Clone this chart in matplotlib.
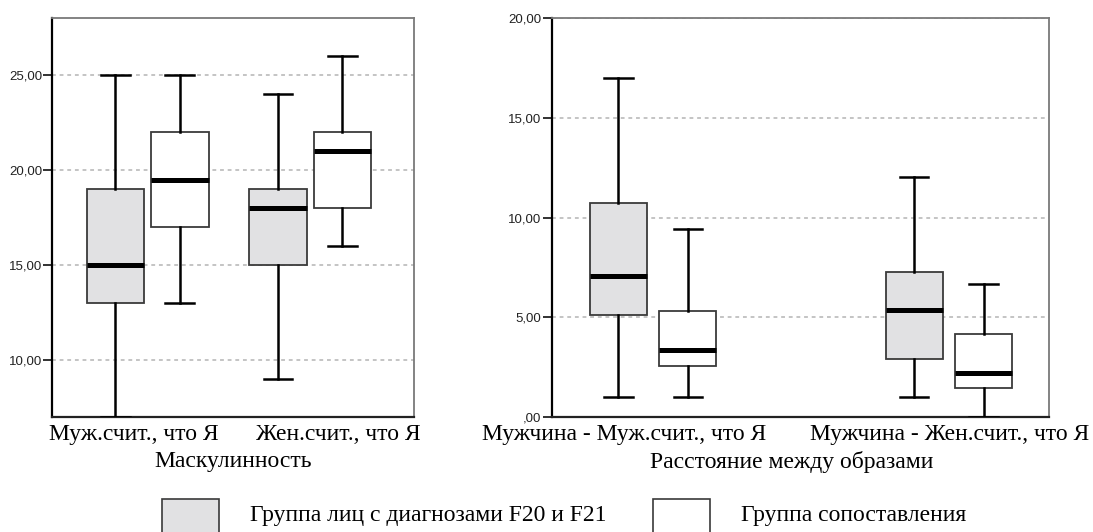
import numpy as np
import matplotlib
matplotlib.use('Agg')
import matplotlib.pyplot as plt
from matplotlib.patches import Rectangle

## values (SPSS clustered boxplots)
groups = ['Группа лиц с диагнозами F20 и F21', 'Группа сопоставления']
group_colors = ['#e1e1e3', '#ffffff']

# left panel: Маскулинность
masc_cats = ['Муж.счит., что Я', 'Жен.счит., что Я']
masc_whislo = [[7.0, 13.0], [9.0, 16.0]]   # [category][group]
masc_q1 = [[13.0, 17.0], [15.0, 18.0]]
masc_med = [[15.0, 19.5], [18.0, 21.0]]
masc_q3 = [[19.0, 22.0], [19.0, 22.0]]
masc_whishi = [[25.0, 25.0], [24.0, 26.0]]
masc_yticks = [10, 15, 20, 25]
masc_yticklabels = ['10,00', '15,00', '20,00', '25,00']

# right panel: Расстояние между образами
dist_cats = ['Мужчина - Муж.счит., что Я', 'Мужчина - Жен.счит., что Я']
dist_whislo = [[1.0, 1.0], [1.0, 0.0]]
dist_q1 = [[5.1, 2.55], [2.93, 1.43]]
dist_med = [[7.05, 3.38], [5.38, 2.23]]
dist_q3 = [[10.72, 5.32], [7.27, 4.18]]
dist_whishi = [[17.0, 9.43], [12.05, 6.68]]
dist_yticks = [0, 5, 10, 15, 20]
dist_yticklabels = [',00', '5,00', '10,00', '15,00', '20,00']

SERIF = ['Liberation Serif', 'DejaVu Serif']
SANS = ['Liberation Sans', 'DejaVu Sans']
FS = 17

fig = plt.figure(figsize=(10.93, 5.32), dpi=100)


def draw_panel(ax, cats, whislo, q1, med, q3, whishi, offset, width,
               yticks, yticklabels, ylim, xlim, label_pos, xlabel, xlabel_x):
    for gi in range(2):
        stats = []
        pos = []
        for ci in range(len(cats)):
            stats.append(dict(whislo=whislo[ci][gi], q1=q1[ci][gi], med=med[ci][gi],
                              q3=q3[ci][gi], whishi=whishi[ci][gi], fliers=[]))
            pos.append(ci + 1 + (gi - 0.5) * 2 * offset)
        ax.bxp(stats, positions=pos, widths=width, capwidths=width * 0.5,
               patch_artist=True, showfliers=False, manage_ticks=False,
               boxprops=dict(facecolor=group_colors[gi], edgecolor='#3a3a3a', linewidth=1.3),
               medianprops=dict(color='black', linewidth=3.6, solid_capstyle='butt'),
               whiskerprops=dict(color='black', linewidth=1.8),
               capprops=dict(color='black', linewidth=1.8), zorder=3)

    ax.set_xlim(xlim)
    ax.set_ylim(ylim)
    ax.set_yticks(yticks)
    ax.set_yticklabels(yticklabels, family=SANS, fontsize=9.5, color='#222222')
    ax.set_xticks(label_pos)
    ax.set_xticklabels(cats, family=SERIF, fontsize=FS)
    ax.tick_params(axis='x', length=0, pad=5)
    ax.tick_params(axis='y', length=6.5, width=1.3, pad=1, color='#222222')
    ax.set_xlabel(xlabel, family=SERIF, fontsize=FS, labelpad=1)
    ax.xaxis.set_label_coords(xlabel_x, -0.085)

    ax.set_axisbelow(True)
    ax.yaxis.grid(True, color='#b4b4b4', linestyle=(0, (2.5, 2.5)), linewidth=1.1)
    for side in ['top', 'right']:
        ax.spines[side].set_color('#7a7a7a')
        ax.spines[side].set_linewidth(1.3)
    ax.spines['left'].set_color('black')
    ax.spines['left'].set_linewidth(1.6)
    ax.spines['bottom'].set_color('#222222')
    ax.spines['bottom'].set_linewidth(1.6)


ax1 = fig.add_axes([0.0479, 0.2162, 0.3312, 0.7494])
draw_panel(ax1, masc_cats, masc_whislo, masc_q1, masc_med, masc_q3, masc_whishi,
           offset=0.198, width=0.354, yticks=masc_yticks, yticklabels=masc_yticklabels,
           ylim=(7, 28), xlim=(0.4147, 2.6403), label_pos=[0.917, 2.171],
           xlabel='Маскулинность', xlabel_x=0.5)

ax2 = fig.add_axes([0.5050, 0.2162, 0.4547, 0.7494])
draw_panel(ax2, dist_cats, dist_whislo, dist_q1, dist_med, dist_q3, dist_whishi,
           offset=0.1175, width=0.193, yticks=dist_yticks, yticklabels=dist_yticklabels,
           ylim=(0, 20), xlim=(0.6575, 2.3385), label_pos=[0.90, 2.003],
           xlabel='Расстояние между образами', xlabel_x=0.482)

# legend at the bottom, patches run off the lower edge as in the original
W, H = 1093.0, 532.0
leg_x = [162, 653]
for gi in range(2):
    fig.add_artist(Rectangle((leg_x[gi] / W, -10 / H), 57 / W, 43 / H,
                             transform=fig.transFigure, facecolor=group_colors[gi],
                             edgecolor='#3a3a3a', linewidth=1.2))
    fig.text((leg_x[gi] + 88) / W, (532 - 516) / H, groups[gi], family=SERIF,
             fontsize=FS, ha='left', va='center')

fig.savefig('out.png', dpi=100)
